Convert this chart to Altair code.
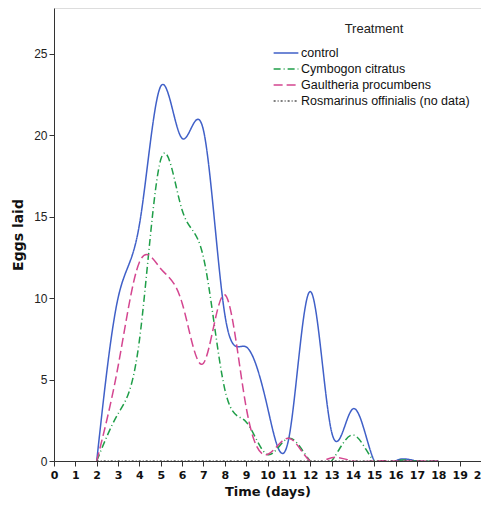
import altair as alt
import pandas as pd

days = list(range(2, 19))
control = [0, 10.0, 14.5, 23.0, 19.8, 20.3, 9.0, 7.0, 3.3, 1.4, 10.4, 1.8, 3.2, 0, 0, 0, 0]
cymbogon = [0, 2.9, 7.4, 18.5, 15.4, 12.5, 4.4, 2.4, 0.4, 1.4, 0, 0, 1.6, 0, 0, 0, 0]
gaultheria = [0, 5.8, 12.2, 11.8, 9.7, 6.0, 10.2, 3.3, 0.4, 1.4, 0, 0.2, 0, 0, 0, 0, 0]
rosmarinus = [0] * len(days)

series = ["control", "Cymbogon citratus", "Gaultheria procumbens", "Rosmarinus offinialis (no data)"]
colors = ["#4060c8", "#1f9e48", "#d44690", "#555555"]
dashes = [[1, 0], [7, 3, 1, 3], [9, 4], [2, 2, 1, 2]]

rows = []
for name, vals in zip(series, [control, cymbogon, gaultheria, rosmarinus]):
    for d, v in zip(days, vals):
        rows.append({"Time": d, "Eggs": v, "Treatment": name})
df = pd.DataFrame(rows)

legend = alt.Legend(
    title="Treatment", orient="none", legendX=224, legendY=15,
    titleFont="Liberation Sans", titleFontSize=13, titleFontWeight="normal",
    titleAnchor="middle", titleColor="#222",
    labelFont="Liberation Sans", labelFontSize=12.5, labelColor="#111", labelLimit=400,
    symbolType="M-1.75,0L1.75,0", symbolSize=200, symbolStrokeWidth=1.5,
    rowPadding=1, titlePadding=9, labelOffset=7,
)

chart = alt.Chart(df).mark_line(interpolate="natural", strokeWidth=1.5, clip=True).encode(
    x=alt.X("Time:Q", title="Time (days)",
            scale=alt.Scale(domain=[0, 20], nice=False),
            axis=alt.Axis(values=list(range(0, 21)), tickSize=5, labelPadding=3,
                          labelFont="DejaVu Sans", labelFontSize=11, labelFontWeight="bold",
                          labelColor="#111", titleFont="DejaVu Sans", titleFontSize=13,
                          titleFontWeight="bold", titleColor="#111", titlePadding=5,
                          grid=False, domainColor="#333", tickColor="#333", labelFlush=False,
                          labelOverlap=False)),
    y=alt.Y("Eggs:Q", title="Eggs laid",
            scale=alt.Scale(domain=[0, 27.8], nice=False),
            axis=alt.Axis(values=[0, 5, 10, 15, 20, 25], tickSize=5, labelPadding=2,
                          labelFont="Liberation Sans", labelFontSize=12, labelColor="#222",
                          titleFont="DejaVu Sans", titleFontSize=14, titleFontWeight="bold",
                          titleColor="#111", titlePadding=8, grid=False,
                          domainColor="#333", tickColor="#333")),
    color=alt.Color("Treatment:N", scale=alt.Scale(domain=series, range=colors), legend=legend),
    strokeDash=alt.StrokeDash("Treatment:N", scale=alt.Scale(domain=series, range=dashes), legend=legend),
).properties(
    width=427, height=453,
    autosize=alt.AutoSizeParams(type="none"),
    padding={"left": 46, "top": 0, "right": 0, "bottom": 40},
).configure_view(stroke="#333", strokeWidth=1).configure(background="white")

chart.save("out.html", embed_options={"renderer": "svg", "actions": False})
